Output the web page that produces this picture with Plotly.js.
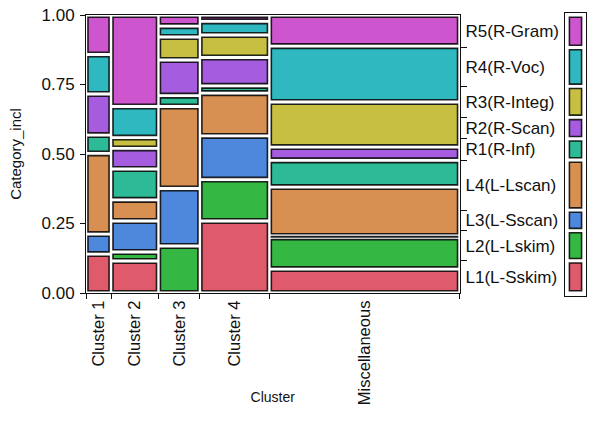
<!DOCTYPE html>
<html>
<head>
<meta charset="utf-8">
<script src="https://cdn.plot.ly/plotly-3.0.1.min.js"></script>
<style>html,body{margin:0;padding:0;background:#fff;}#chart{width:590px;height:432px;}</style>
</head>
<body>
<div id="chart"></div>
<script>
// ---- data ----
const clusters = ['Cluster 1', 'Cluster 2', 'Cluster 3', 'Cluster 4', 'Miscellaneous'];
const clusterShare = [0.067, 0.127, 0.111, 0.186, 0.509];
const categories = ['L1(L-Sskim)', 'L2(L-Lskim)', 'L3(L-Sscan)', 'L4(L-Lscan)',
                    'R1(R-Inf)', 'R2(R-Scan)', 'R3(R-Integ)', 'R4(R-Voc)', 'R5(R-Gram)'];
// proportion of each category within each cluster (order L1..R5)
const cluster1 = [0.140, 0.000, 0.072, 0.290, 0.066, 0.148, 0.000, 0.142, 0.142];
const cluster2 = [0.115, 0.0325, 0.1115, 0.076, 0.111, 0.074, 0.039, 0.112, 0.329];
const cluster3 = [0.000, 0.169, 0.207, 0.295, 0.039, 0.128, 0.083, 0.039, 0.040];
const cluster4 = [0.259, 0.149, 0.157, 0.154, 0.026, 0.102, 0.081, 0.049, 0.023];
const miscellaneous = [0.086, 0.114, 0.005, 0.176, 0.096, 0.048, 0.162, 0.201, 0.112];
const yTicks = [0, 0.25, 0.5, 0.75, 1];
const colors = ['#DF5B6C', '#35B843', '#4E88DC', '#D79051', '#2DBA96',
                '#A65CDE', '#C7BF41', '#2FB8BF', '#CD56CF'];

// ---- build ----
const props = [cluster1, cluster2, cluster3, cluster4, miscellaneous];
const gx = 0.0105, gy = 0.016;
const font = 'Liberation Sans, Arial, Helvetica, sans-serif';
const lineStyle = {color: 'rgba(0,0,0,0.85)', width: 1.6};

const xBounds = [0];
clusterShare.forEach(w => xBounds.push(xBounds[xBounds.length - 1] + w));
const xCenters = clusterShare.map((w, i) => xBounds[i] + w / 2);

const traces = [];
categories.forEach((cat, k) => {
  const xs = [], ys = [], bs = [], ws = [];
  props.forEach((p, c) => {
    const v = p[k];
    if (v <= 0) return;
    let s = 0;
    for (let j = 0; j < k; j++) s += p[j];
    const h = Math.max(v - gy, 0.0015);
    xs.push(xCenters[c]);
    ys.push(h);
    bs.push(s + v / 2 - h / 2);
    ws.push(clusterShare[c] - gx);
  });
  traces.push({type: 'bar', x: xs, y: ys, base: bs, width: ws, name: cat,
    marker: {color: colors[k], line: lineStyle}, xaxis: 'x', yaxis: 'y', hoverinfo: 'skip'});
});

// marginal distribution of categories
const marg = categories.map((_, k) => props.reduce((a, p, c) => a + p[k] * clusterShare[c], 0));
const mBounds = [0];
marg.forEach(m => mBounds.push(mBounds[mBounds.length - 1] + m));
const mMids = marg.map((m, k) => mBounds[k] + m / 2);

categories.forEach((cat, k) => {
  const h = Math.max(marg[k] - gy, 0.0015);
  traces.push({type: 'bar', x: [0], y: [h], base: [mBounds[k] + marg[k] / 2 - h / 2], width: [0.58],
    marker: {color: colors[k], line: lineStyle}, xaxis: 'x4', yaxis: 'y4', hoverinfo: 'skip', name: cat});
});

// helper empty traces so overlay axes are drawn
traces.push({type: 'scatter', x: [null], y: [null], xaxis: 'x3', yaxis: 'y', hoverinfo: 'skip', showlegend: false});
traces.push({type: 'scatter', x: [null], y: [null], xaxis: 'x', yaxis: 'y2', hoverinfo: 'skip', showlegend: false});
traces.push({type: 'scatter', x: [null], y: [null], xaxis: 'x', yaxis: 'y3', hoverinfo: 'skip', showlegend: false});

const H = 432, mt = 13, mb = 136, ph = H - mt - mb;
const yDom = [(296 - 293) / ph, (296 - 15) / ph];
const xDomMain = [0, (459.5 - 86) / 500];
const xDomStrip = [(565 - 86) / 500, 1];

const layout = {
  width: 590, height: 432,
  margin: {l: 86, r: 4, t: mt, b: mb, pad: 0},
  paper_bgcolor: '#fff', plot_bgcolor: '#fff',
  showlegend: false, barmode: 'overlay',
  font: {family: font, color: '#111', size: 17},
  xaxis: {domain: xDomMain, range: [0, 1], anchor: 'y',
    tickvals: xCenters, ticktext: clusters, tickangle: -90, ticks: '',
    tickfont: {size: 16.5, family: font, color: '#111'},
    showline: true, mirror: true, linecolor: '#111', linewidth: 1,
    showgrid: false, zeroline: false},
  xaxis3: {overlaying: 'x', anchor: 'y', range: [0, 1], side: 'bottom',
    tickvals: xBounds, ticks: 'outside', ticklen: 5, tickcolor: '#111', tickwidth: 1,
    showticklabels: false, showline: false, showgrid: false, zeroline: false,
    title: {text: 'Cluster', font: {size: 14, family: font, color: '#111'}, standoff: 94}},
  yaxis: {domain: yDom, range: [0, 1], anchor: 'x',
    tickvals: yTicks, tickformat: '.2f', ticks: 'outside', ticklen: 5, tickcolor: '#111',
    tickfont: {size: 17, family: font, color: '#111'}, ticklabelstandoff: 2,
    showline: true, mirror: true, linecolor: '#111', linewidth: 1,
    showgrid: false, zeroline: false,
    title: {text: 'Category_incl', font: {size: 15, family: font, color: '#111'}, standoff: 16}},
  yaxis2: {overlaying: 'y', anchor: 'x', side: 'right', range: [0, 1],
    tickvals: mBounds.slice(1, -1), ticks: 'outside', ticklen: 6, tickcolor: '#111',
    showticklabels: false, showline: false, showgrid: false, zeroline: false},
  yaxis3: {overlaying: 'y', anchor: 'x', side: 'right', range: [0, 1],
    tickvals: mMids, ticktext: categories, ticks: '', ticklabelstandoff: 5,
    tickfont: {size: 17, family: font, color: '#111'},
    showline: false, showgrid: false, zeroline: false},
  xaxis4: {domain: xDomStrip, anchor: 'y4', range: [-0.5, 0.5],
    showticklabels: false, ticks: '', showline: true, mirror: true, linecolor: '#111',
    showgrid: false, zeroline: false},
  yaxis4: {domain: [0, 1], anchor: 'x4', range: [-3 / 278, 1 + 2 / 278],
    showticklabels: false, ticks: '', showline: true, mirror: true, linecolor: '#111',
    showgrid: false, zeroline: false}
};

Plotly.newPlot('chart', traces, layout, {staticPlot: true, displayModeBar: false});
</script>
</body>
</html>
